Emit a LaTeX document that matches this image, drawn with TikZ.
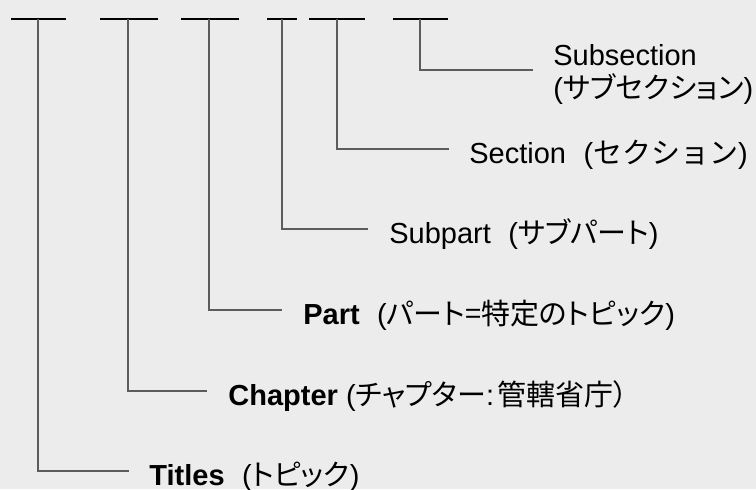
\documentclass[tikz,border=0pt]{standalone}
\usepackage{fontspec}
\setmainfont{Liberation Sans}
\newfontfamily\jp[RawFeature=+palt]{Noto Sans CJK JP}
\newfontfamily\jpfull{Noto Sans CJK JP}
\usetikzlibrary{calc}
\definecolor{bgcol}{RGB}{236,236,236}
\definecolor{linecol}{RGB}{92,92,92}
\tikzset{
  bar/.style={line width=1pt, black},
  link/.style={line width=0.8pt, linecol},
  lbl/.style={anchor=base west, inner sep=0pt, align=left, font=\fontsize{14.5}{16.5}\selectfont},
}
\newcommand{\lblgap}{\hspace{0.6em}}

\begin{document}
\begin{tikzpicture}[x=0.5pt,y=-0.5pt]
\fill[bgcol] (0,0) rectangle (756,489);
\useasboundingbox (0,0) rectangle (756,489);
% top bars
\draw[bar] (11,19) -- (66,19);
\draw[bar] (100,19) -- (158,19);
\draw[bar] (181,19) -- (239,19);
\draw[bar] (267,19) -- (297,19);
\draw[bar] (309,19) -- (365,19);
\draw[bar] (393,19) -- (448,19);
\coordinate (v1) at (38,19);
\coordinate (v2) at (128,19);
\coordinate (v3) at (209,19);
\coordinate (v4) at (282,19);
\coordinate (v5) at (337,19);
\coordinate (v6) at (420,19);
% labels
\node[lbl] (titles) at (149,485) {\textbf{Titles}\lblgap({\jp トピック})};
\node[lbl] (chapter) at (228,405) {\textbf{Chapter} ({\jp チャプター}:\hspace{0.1em}{\jp 管轄省庁）}};
\node[lbl] (part) at (303,324) {\textbf{Part}\lblgap({\jp パート=特定のトピック})};
\node[lbl] (subpart) at (389,243) {Subpart\lblgap({\jp サブパート})};
\node[lbl] (section) at (469,163) {Section\lblgap({\jpfull セクション})};
\node[lbl] (subsec) at (553,98) {Subsection\\({\jp サブセクション})};
% connectors
\draw[link] (v1) |- ($(titles.base west)+(-20,-14)$);
\draw[link] (v2) |- ($(chapter.base west)+(-21,-14)$);
\draw[link] (v3) |- ($(part.base west)+(-21,-14)$);
\draw[link] (v4) |- ($(subpart.base west)+(-21,-14)$);
\draw[link] (v5) |- ($(section.base west)+(-20,-14)$);
\draw[link] (v6) |- ($(subsec.base west)+(-20,-28)$);
\end{tikzpicture}
\end{document}
